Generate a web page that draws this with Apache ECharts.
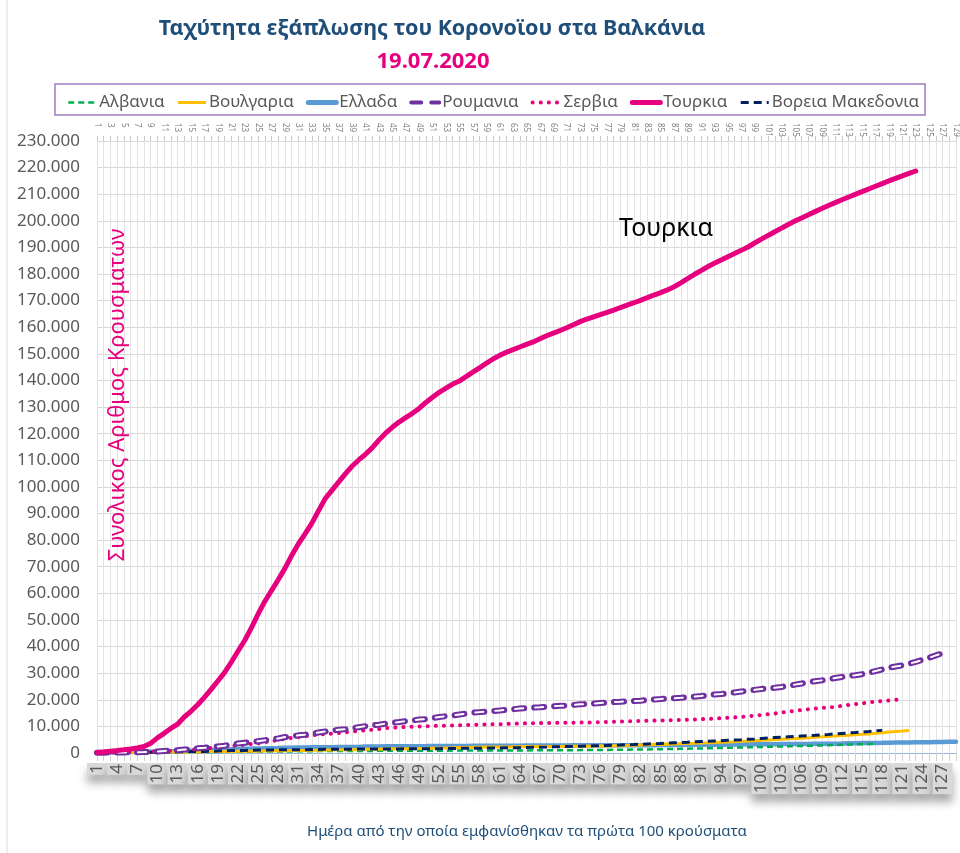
<!DOCTYPE html>
<html>
<head>
<meta charset="utf-8">
<title>Ταχύτητα εξάπλωσης του Κορονοϊου στα Βαλκάνια</title>
<script src="https://cdn.jsdelivr.net/npm/echarts@6/dist/echarts.min.js"></script>
<style>
  html, body { margin: 0; padding: 0; background: #fff; }
  #chart { width: 960px; height: 853px; }
</style>
</head>
<body>
<div id="chart"></div>
<script>
// days since the first 100 cases
const days = Array.from({ length: 129 }, (_, i) => String(i + 1))

const countries = ['Αλβανια', 'Βουλγαρια', 'Ελλαδα', 'Ρουμανια', 'Σερβια', 'Τουρκια', 'Βορεια Μακεδονια']

const albania = [
  104, 123, 146, 174, 186, 197, 212, 223, 243, 259,
  277, 304, 333, 361, 377, 383, 400, 409, 416, 433,
  446, 467, 475, 494, 518, 539, 548, 562, 584, 609,
  634, 663, 678, 712, 726, 736, 750, 766, 773, 782,
  789, 795, 803, 820, 832, 842, 846, 850, 856, 868,
  872, 876, 880, 898, 916, 933, 946, 948, 949, 954,
  955, 962, 970, 978, 985, 993, 1004, 1017, 1029, 1041,
  1054, 1068, 1083, 1099, 1118, 1137, 1159, 1184, 1212, 1243,
  1276, 1311, 1349, 1389, 1431, 1476, 1521, 1570, 1620, 1672,
  1722, 1775, 1831, 1888, 1946, 2005, 2065, 2126, 2188, 2251,
  2315, 2380, 2446, 2513, 2581, 2650, 2720, 2791, 2863, 2936,
  3010, 3085, 3161, 3238, 3316, 3395, 3475
]

const bulgaria = [
  105, 127, 163, 187, 201, 218, 242, 264, 293, 331,
  346, 359, 399, 422, 457, 485, 503, 531, 549, 577,
  593, 635, 661, 675, 713, 747, 800, 846, 878, 894,
  929, 975, 1015, 1024, 1097, 1143, 1188, 1234, 1247, 1300,
  1363, 1399, 1447, 1506, 1555, 1594, 1618, 1636, 1652, 1704,
  1778, 1829, 1921, 1990, 2069, 2100, 2138, 2175, 2211, 2235,
  2259, 2292, 2331, 2372, 2408, 2433, 2443, 2460, 2477, 2485,
  2499, 2513, 2538, 2560, 2585, 2627, 2668, 2710, 2760, 2810,
  2953, 3018, 3072, 3151, 3229, 3316, 3390, 3487, 3563, 3641,
  3745, 3822, 3936, 4042, 4144, 4257, 4389, 4495, 4617, 4752,
  4862, 5008, 5154, 5315, 5406, 5582, 5740, 5914, 6062, 6212,
  6380, 6542, 6672, 6869, 7015, 7175, 7411, 7649, 7877, 8071,
  8244, 8480
]

const greece = [
  117, 190, 228, 331, 331, 387, 418, 464, 495, 530,
  624, 695, 743, 821, 892, 966, 1061, 1156, 1212, 1314,
  1415, 1544, 1613, 1673, 1735, 1755, 1832, 1884, 1955, 2011,
  2081, 2114, 2145, 2170, 2192, 2207, 2224, 2235, 2235, 2245,
  2401, 2408, 2463, 2490, 2506, 2517, 2534, 2566, 2576, 2591,
  2612, 2620, 2626, 2632, 2642, 2663, 2678, 2691, 2710, 2716,
  2726, 2744, 2760, 2770, 2810, 2819, 2834, 2836, 2840, 2850,
  2853, 2874, 2876, 2878, 2882, 2892, 2903, 2906, 2909, 2915,
  2917, 2918, 2937, 2952, 2967, 2980, 2997, 3049, 3058, 3068,
  3088, 3108, 3121, 3134, 3148, 3203, 3237, 3256, 3266, 3287,
  3302, 3310, 3343, 3366, 3376, 3390, 3409, 3432, 3458, 3486,
  3519, 3562, 3622, 3672, 3732, 3772, 3803, 3826, 3853, 3910,
  3939, 3964, 4007, 4048, 4077, 4109, 4137, 4193, 4227
]

const romania = [
  123, 139, 158, 184, 217, 260, 308, 367, 433, 576,
  762, 906, 1029, 1292, 1452, 1760, 1952, 2245, 2460, 2738,
  3183, 3613, 3864, 4057, 4417, 4761, 5202, 5467, 5990, 6300,
  6633, 6879, 7216, 7707, 8067, 8418, 8746, 8936, 9242, 9710,
  10096, 10417, 10635, 11036, 11339, 11616, 11978, 12240, 12567, 12732,
  13163, 13512, 13837, 14107, 14499, 14811, 15131, 15362, 15588, 15778,
  16002, 16247, 16437, 16704, 16871, 17036, 17191, 17387, 17585, 17712,
  17857, 18070, 18283, 18429, 18594, 18791, 18982, 19133, 19257, 19398,
  19517, 19669, 19907, 20103, 20290, 20479, 20604, 20749, 20945, 21182,
  21404, 21679, 21999, 22165, 22415, 22760, 23080, 23400, 23730, 24045,
  24291, 24505, 24826, 25286, 25697, 26130, 26582, 26970, 27296, 27746,
  28166, 28582, 28973, 29223, 29620, 30175, 30789, 31381, 32079, 32535,
  32948, 33585, 34226, 35003, 35802, 36691, 37458
]

const serbia = [
  103, 135, 171, 222, 249, 303, 384, 457, 528, 659,
  741, 785, 900, 1060, 1171, 1476, 1624, 1908, 2200, 2447,
  2666, 2867, 3105, 3380, 3630, 4054, 4465, 4873, 5318, 5690,
  5994, 6318, 6630, 6890, 7114, 7276, 7483, 7779, 8042, 8275,
  8497, 8724, 9009, 9362, 9464, 9677, 9791, 9848, 9943, 10032,
  10176, 10243, 10295, 10374, 10438, 10496, 10610, 10699, 10733, 10785,
  10833, 10919, 11000, 11092, 11159, 11193, 11227, 11275, 11300, 11354,
  11381, 11412, 11430, 11454, 11523, 11571, 11667, 11741, 11823, 11896,
  11965, 12031, 12102, 12175, 12236, 12310, 12367, 12426, 12522, 12616,
  12709, 12803, 12894, 13092, 13235, 13372, 13565, 13792, 14046, 14288,
  14564, 14836, 15195, 15504, 15829, 16131, 16420, 16719, 16962, 17076,
  17342, 17728, 18073, 18360, 18639, 18997, 19320, 19515, 19717, 19963,
  20240
]

const turkey = [
  191, 359, 670, 947, 1236, 1529, 1872, 2433, 3629, 5698,
  7402, 9217, 10827, 13531, 15679, 18135, 20921, 23934, 27069, 30217,
  34109, 38226, 42282, 47029, 52167, 56956, 61049, 65111, 69392, 74193,
  78546, 82329, 86306, 90980, 95591, 98674, 101790, 104912, 107773, 110130,
  112261, 114653, 117589, 120204, 122392, 124375, 126045, 127659, 129491, 131744,
  133721, 135569, 137115, 138657, 139771, 141475, 143114, 144749, 146457, 148067,
  149435, 150593, 151615, 152587, 153548, 154500, 155686, 156827, 157814, 158762,
  159797, 160979, 162120, 163103, 163942, 164769, 165555, 166422, 167410, 168340,
  169218, 170132, 171121, 172114, 173036, 174023, 175218, 176677, 178239, 179831,
  181298, 182727, 184031, 185245, 186493, 187685, 188897, 190165, 191657, 193115,
  194511, 195883, 197239, 198613, 199906, 201098, 202284, 203456, 204610, 205758,
  206844, 207897, 208938, 209962, 210965, 211981, 212993, 214001, 214993, 215940,
  216873, 217799, 218717
]

const northMacedonia = [
  114, 136, 148, 177, 201, 219, 241, 259, 285, 329,
  354, 384, 430, 483, 555, 570, 599, 663, 711, 854,
  908, 951, 977, 1017, 1081, 1117, 1170, 1188, 1207, 1225,
  1231, 1259, 1300, 1326, 1367, 1386, 1399, 1422, 1442, 1465,
  1494, 1506, 1511, 1518, 1526, 1539, 1558, 1572, 1586, 1600,
  1622, 1642, 1664, 1694, 1740, 1762, 1792, 1817, 1839, 1858,
  1898, 1941, 1978, 2014, 2077, 2129, 2164, 2226, 2315, 2391,
  2420, 2490, 2560, 2620, 2700, 2760, 2830, 2900, 2990, 3090,
  3184, 3289, 3395, 3478, 3590, 3701, 3829, 3946, 4057, 4182,
  4299, 4408, 4529, 4648, 4782, 4902, 5014, 5162, 5291, 5445,
  5613, 5782, 5953, 6106, 6248, 6393, 6533, 6682, 6834, 6991,
  7163, 7344, 7521, 7705, 7893, 8082, 8285, 8502
]

const FONT = '"Noto Sans", "DejaVu Sans", sans-serif'
const GREY = '#595959'

const fmt = (v) => String(v).replace(/\B(?=(\d{3})+(?!\d))/g, '.')

// thicker icons in the legend, like the original
const legendWidths = { 'Ελλαδα': 5, 'Τουρκια': 5, 'Ρουμανια': 4, 'Βουλγαρια': 3, 'Σερβια': 4, 'Αλβανια': 2.5, 'Βορεια Μακεδονια': 3 }

const chart = echarts.init(document.getElementById('chart'))

const line = (name, data, style, z) => ({
  name,
  type: 'line',
  data,
  symbol: 'none',
  z: z || 2,
  lineStyle: style,
  itemStyle: { color: style.color },
  emphasis: { disabled: true }
})

chart.setOption({
  animation: false,
  textStyle: { fontFamily: FONT },
  title: [
    {
      text: 'Ταχύτητα εξάπλωσης του Κορονοϊου στα Βαλκάνια',
      left: 427,
      top: 13,
      textAlign: 'center',
      textStyle: { fontSize: 21.5, fontWeight: 'bold', color: '#1f4e79', fontFamily: FONT }
    },
    {
      text: '19.07.2020',
      left: 428,
      top: 46,
      textAlign: 'center',
      textStyle: { fontSize: 22, fontWeight: 'bold', color: '#e6007e', fontFamily: FONT }
    }
  ],
  legend: {
    data: countries.map(name => ({ name, lineStyle: { width: legendWidths[name] } })),
    left: 62,
    top: 89,
    itemGap: 12,
    itemWidth: 28,
    itemHeight: 12,
    itemStyle: { opacity: 0 },
    textStyle: { fontSize: 17, color: GREY, fontFamily: FONT, padding: [0, 0, 0, -2] }
  },
  grid: { left: 97, right: 0, top: 141, bottom: 100, containLabel: false },
  xAxis: [
    {
      type: 'category',
      data: days,
      boundaryGap: false,
      position: 'bottom',
      axisLine: { lineStyle: { color: '#8fb4de', width: 1 } },
      axisTick: { show: true, interval: 0, length: 8, lineStyle: { color: '#d0d0d0' } },
      splitLine: { show: true, interval: 0, lineStyle: { color: '#e3e3e3', width: 1 } },
      axisLabel: {
        interval: 2,
        rotate: 90,
        margin: 10,
        fontSize: 17,
        color: GREY,
        fontFamily: FONT,
        backgroundColor: '#d9d9d9',
        lineHeight: 20,
        padding: [0, 1, 0, 1],
        shadowColor: 'rgba(0,0,0,0.35)',
        shadowBlur: 10,
        shadowOffsetY: 8
      }
    },
    {
      type: 'category',
      data: days,
      boundaryGap: false,
      position: 'top',
      axisLine: { show: false },
      axisTick: { show: true, interval: 0, length: 5, lineStyle: { color: '#c8c8c8' } },
      splitLine: { show: false },
      axisLabel: {
        interval: 1,
        rotate: 90,
        margin: 18,
        align: 'left',
        verticalAlign: 'middle',
        fontSize: 8,
        color: '#7f7f7f',
        fontFamily: FONT
      }
    }
  ],
  yAxis: {
    type: 'value',
    min: 0,
    max: 230000,
    interval: 10000,
    axisLine: { show: false },
    axisTick: { show: false },
    splitLine: { lineStyle: { color: '#d9d9d9', width: 1 } },
    axisLabel: {
      fontSize: 17,
      color: GREY,
      margin: 17,
      fontFamily: FONT,
      formatter: fmt
    }
  },
  graphic: [
    {
      type: 'line',
      shape: { x1: 7, y1: 0, x2: 7, y2: 853 },
      style: { stroke: '#d9d9d9', lineWidth: 1 },
      silent: true
    },
    {
      type: 'rect',
      shape: { x: 55, y: 84, width: 870, height: 31 },
      style: { fill: 'none', stroke: '#9e7cc1', lineWidth: 1.5 },
      silent: true,
      z: -1
    },
    {
      type: 'text',
      x: 118,
      y: 395,
      rotation: Math.PI / 2,
      style: {
        text: 'Συνολικος Αριθμος Κρουσματων',
        fill: '#e6007e',
        font: '22px ' + FONT,
        align: 'center',
        verticalAlign: 'middle'
      },
      silent: true,
      z: 10
    },
    {
      type: 'text',
      x: 666,
      y: 229,
      style: {
        text: 'Τουρκια',
        fill: '#000',
        font: '25px ' + FONT,
        align: 'center',
        verticalAlign: 'middle'
      },
      silent: true,
      z: 10
    },
    {
      type: 'text',
      x: 527,
      y: 832,
      style: {
        text: 'Ημέρα από την οποία εμφανίσθηκαν τα πρώτα 100 κρούσματα',
        fill: '#1f4e79',
        font: '15px ' + FONT,
        align: 'center',
        verticalAlign: 'middle'
      },
      silent: true
    }
  ],
  series: [
    line('Ελλαδα', greece, { color: '#5b9bd5', width: 4.5, cap: 'round' }, 2),
    line('Αλβανια', albania, { color: '#00b050', width: 2.5, type: [6, 4] }, 3),
    line('Βουλγαρια', bulgaria, { color: '#ffc000', width: 3 }, 3),
    line('Βορεια Μακεδονια', northMacedonia, { color: '#002060', width: 3, type: [8, 5] }, 4),
    line('Σερβια', serbia, { color: '#e6007e', width: 4, type: [0.1, 8], cap: 'round' }, 4),
    line('Ρουμανια', romania, { color: '#7030a0', width: 6, type: [10, 10], cap: 'round' }, 5),
    {
      name: 'Ρουμανια-inner',
      type: 'line',
      data: romania,
      symbol: 'none',
      z: 6,
      lineStyle: { color: '#ffffff', width: 2, type: [8, 12], dashOffset: -1, cap: 'round' },
      emphasis: { disabled: true }
    },
    line('Τουρκια', turkey, { color: '#e6007e', width: 5, cap: 'round' }, 7)
  ]
})
</script>
</body>
</html>
